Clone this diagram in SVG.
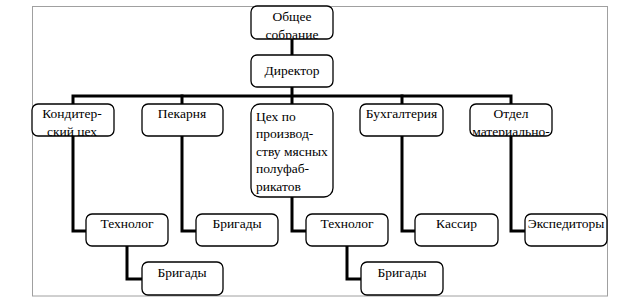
<svg xmlns="http://www.w3.org/2000/svg" width="623" height="306" viewBox="0 0 623 306">
<style>
.box{fill:#fff;stroke:#000;stroke-width:1.3}
.c{fill:none;stroke:#000;stroke-width:3;stroke-linecap:square;stroke-linejoin:miter}
text{font-family:"Liberation Serif","Times New Roman",serif;font-size:13.5px;fill:#000}
.m{text-anchor:middle}
</style>
<defs>
<clipPath id="clipTop"><rect x="251" y="6" width="82" height="33"/></clipPath>
<clipPath id="clipKond"><rect x="32" y="104" width="82" height="32"/></clipPath>
<clipPath id="clipOtd"><rect x="470" y="104" width="82" height="32"/></clipPath>
</defs>
<rect x="32.5" y="6.5" width="575" height="289.5" fill="#fff" stroke="#a0a0a0" stroke-width="1"/>
<g id="connectors">
<path class="c" d="M292 39V55"/>
<path class="c" d="M292 87V104"/>
<path class="c" d="M73 104V96H511V104"/>
<path class="c" d="M182 96V104"/>
<path class="c" d="M402 96V104"/>
<path class="c" d="M73 136V231H86"/>
<path class="c" d="M182 136V231H196"/>
<path class="c" d="M292 197V231H306"/>
<path class="c" d="M402 136V231H415"/>
<path class="c" d="M511 136V231H525"/>
<path class="c" d="M127 246V279H142"/>
<path class="c" d="M347 246V279H361"/>
</g>
<g id="n-obshchee">
<rect class="box" x="251" y="6" width="82" height="33" rx="6"/>
<g clip-path="url(#clipTop)">
<text class="m" x="292" y="20.5">Общее</text>
<text class="m" x="292" y="38.5">собрание</text>
</g>
</g>
<g id="n-direktor">
<rect class="box" x="251" y="55" width="82" height="32" rx="6"/>
<text class="m" x="292" y="75">Директор</text>
</g>
<g id="n-kond">
<rect class="box" x="32" y="104" width="82" height="32" rx="6"/>
<g clip-path="url(#clipKond)">
<text class="m" x="72" y="118">Кондитер-</text>
<text class="m" x="72" y="136">ский цех</text>
</g>
</g>
<g id="n-pekarnya">
<rect class="box" x="142" y="104" width="81" height="32" rx="6"/>
<text class="m" x="182" y="118">Пекарня</text>
</g>
<g id="n-tsekh">
<rect class="box" x="251" y="104" width="82" height="93" rx="9"/>
<text x="256" y="120.5">Цех по</text>
<text x="256" y="138">производ-</text>
<text x="256" y="155.5">ству мясных</text>
<text x="256" y="173">полуфаб-</text>
<text x="256" y="190.5">рикатов</text>
</g>
<g id="n-bukh">
<rect class="box" x="360" y="104" width="83" height="32" rx="6"/>
<text class="m" x="401.5" y="117.5">Бухгалтерия</text>
</g>
<g id="n-otdel">
<rect class="box" x="470" y="104" width="82" height="32" rx="6"/>
<g clip-path="url(#clipOtd)">
<text class="m" x="511" y="117.5">Отдел</text>
<text class="m" x="511" y="135.5">материально-</text>
</g>
</g>
<g id="n-tekhnolog1">
<rect class="box" x="86" y="214" width="82" height="32" rx="6"/>
<text class="m" x="127" y="227.5">Технолог</text>
</g>
<g id="n-brigady1">
<rect class="box" x="196" y="214" width="82" height="32" rx="6"/>
<text class="m" x="237" y="227.5">Бригады</text>
</g>
<g id="n-tekhnolog2">
<rect class="box" x="306" y="214" width="82" height="32" rx="6"/>
<text class="m" x="347" y="227.5">Технолог</text>
</g>
<g id="n-kassir">
<rect class="box" x="415" y="214" width="83" height="32" rx="6"/>
<text class="m" x="456.5" y="227.5">Кассир</text>
</g>
<g id="n-ekspeditory">
<rect class="box" x="525" y="214" width="82" height="32" rx="6"/>
<text class="m" x="566" y="227.5">Экспедиторы</text>
</g>
<g id="n-brigady2">
<rect class="box" x="142" y="262" width="81" height="33" rx="6"/>
<text class="m" x="182" y="276.5">Бригады</text>
</g>
<g id="n-brigady3">
<rect class="box" x="361" y="262" width="82" height="33" rx="6"/>
<text class="m" x="402" y="276.5">Бригады</text>
</g>
</svg>
